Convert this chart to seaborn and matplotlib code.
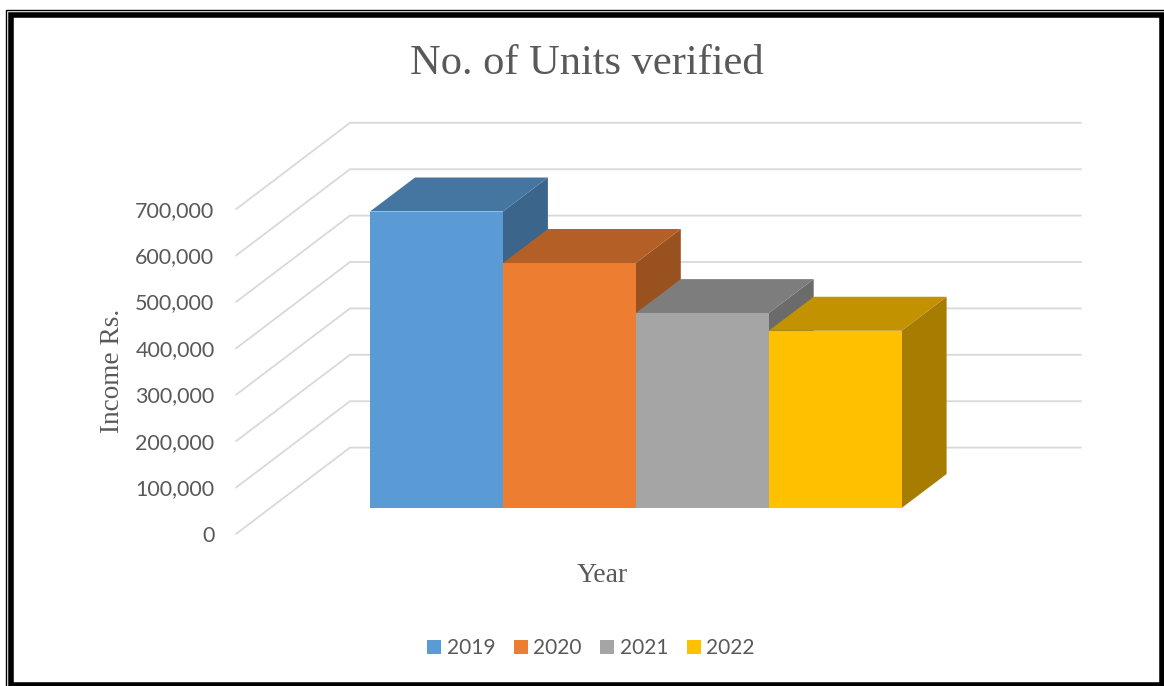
import matplotlib
matplotlib.use("Agg")
import matplotlib.pyplot as plt
from matplotlib.colors import to_rgb
from matplotlib.patches import Polygon, Rectangle
import pandas as pd
import seaborn as sns

years = ["2019", "2020", "2021", "2022"]
units = [639000, 528000, 420000, 382000]
tick_values = [0, 100000, 200000, 300000, 400000, 500000, 600000, 700000]
bar_colors = ["#5B9BD5", "#ED7D31", "#A5A5A5", "#FFC000"]

W, H = 1164, 686
# pixel scale of the fake 3D projection
PX_PER_CAT = 132.9
PX_PER_VAL = 46.4 / 100000
BAR_LEFT_PX = 370.0
BASE_PX = 508.0


def px_x(px):
    return (px - BAR_LEFT_PX) / PX_PER_CAT - 0.5


def px_y(px):
    return (BASE_PX - px) / PX_PER_VAL


def darker(color, k):
    return tuple(c * k for c in to_rgb(color))


sns.set_style("white")
fig = plt.figure(figsize=(W / 100, H / 100), dpi=100, facecolor="white")
ax = fig.add_axes([0, 0, 1, 1])

df = pd.DataFrame({"year": years, "units": units})
sns.barplot(data=df, x="year", y="units", hue="year", palette=bar_colors,
            width=1.0, saturation=1, legend=True, ax=ax, zorder=3, linewidth=0)

ax.set_xlim(px_x(0), px_x(W))
ax.set_ylim(px_y(H), px_y(0))
ax.set_axis_off()

# walls: diagonal from the front edge to the back, then the back gridline
wall_x0, wall_x1, wall_x2 = px_x(236), px_x(350), px_x(1081)
front0 = px_y(534)
back0 = px_y(447.6)
for v in tick_values:
    ax.plot([wall_x0, wall_x1, wall_x2], [front0 + v, back0 + v, back0 + v],
            color="#D9D9D9", lw=1.3, zorder=1, solid_joinstyle="miter")
    ax.text(px_x(214.5), front0 + v - 1.5 / PX_PER_VAL, f"{v:,}", ha="right", va="center",
            fontsize=15.5, color="#595959", family="Lato")

# top and side faces of each bar, taken from the drawn patches
depth_x = 45 / PX_PER_CAT
depth_y = 34 / PX_PER_VAL
for i, container in enumerate(ax.containers):
    for bar in container:
        x0 = bar.get_x()
        x1 = x0 + bar.get_width()
        top = bar.get_height()
        ax.add_patch(Polygon([(x0, top), (x1, top), (x1 + depth_x, top + depth_y), (x0 + depth_x, top + depth_y)],
                             closed=True, fc=darker(bar_colors[i], 0.76), ec="none", zorder=2.6 - i * 0.1 + 0.5))
        ax.add_patch(Polygon([(x1, 0), (x1, top), (x1 + depth_x, top + depth_y), (x1 + depth_x, depth_y)],
                             closed=True, fc=darker(bar_colors[i], 0.65), ec="none", zorder=2.5 - i * 0.1))

ax.text(px_x(586.5), px_y(63.5), "No. of Units verified", ha="center", va="center",
        fontsize=30.6, color="#595959", family="Liberation Serif")
ax.text(px_x(602), px_y(576), "Year", ha="center", va="center",
        fontsize=20, color="#595959", family="Liberation Serif")
ax.text(px_x(113), px_y(371), "Income Rs.", ha="center", va="center", rotation=90,
        fontsize=19.6, color="#595959", family="Liberation Serif")

sns.move_legend(ax, "center", bbox_to_anchor=(591 / W, 1 - 648.5 / H), ncol=4, frameon=False,
                title=None, handlelength=0.67, handleheight=0.67,
                handletextpad=0.27, columnspacing=0.88, labelcolor="#595959",
                prop={"family": "Lato", "size": 15})

# double border of the picture
fig.add_artist(Rectangle((5.7 / W, 1 - 690 / H), 1170 / W, 680.5 / H, transform=fig.transFigure,
                         fill=False, ec="black", lw=1.0))
fig.add_artist(Rectangle((11 / W, 1 - 684.5 / H), 1151 / W, 670 / H, transform=fig.transFigure,
                         fill=False, ec="black", lw=4.0, joinstyle="miter"))

fig.savefig("out.png", dpi=100)
plt.close(fig)
